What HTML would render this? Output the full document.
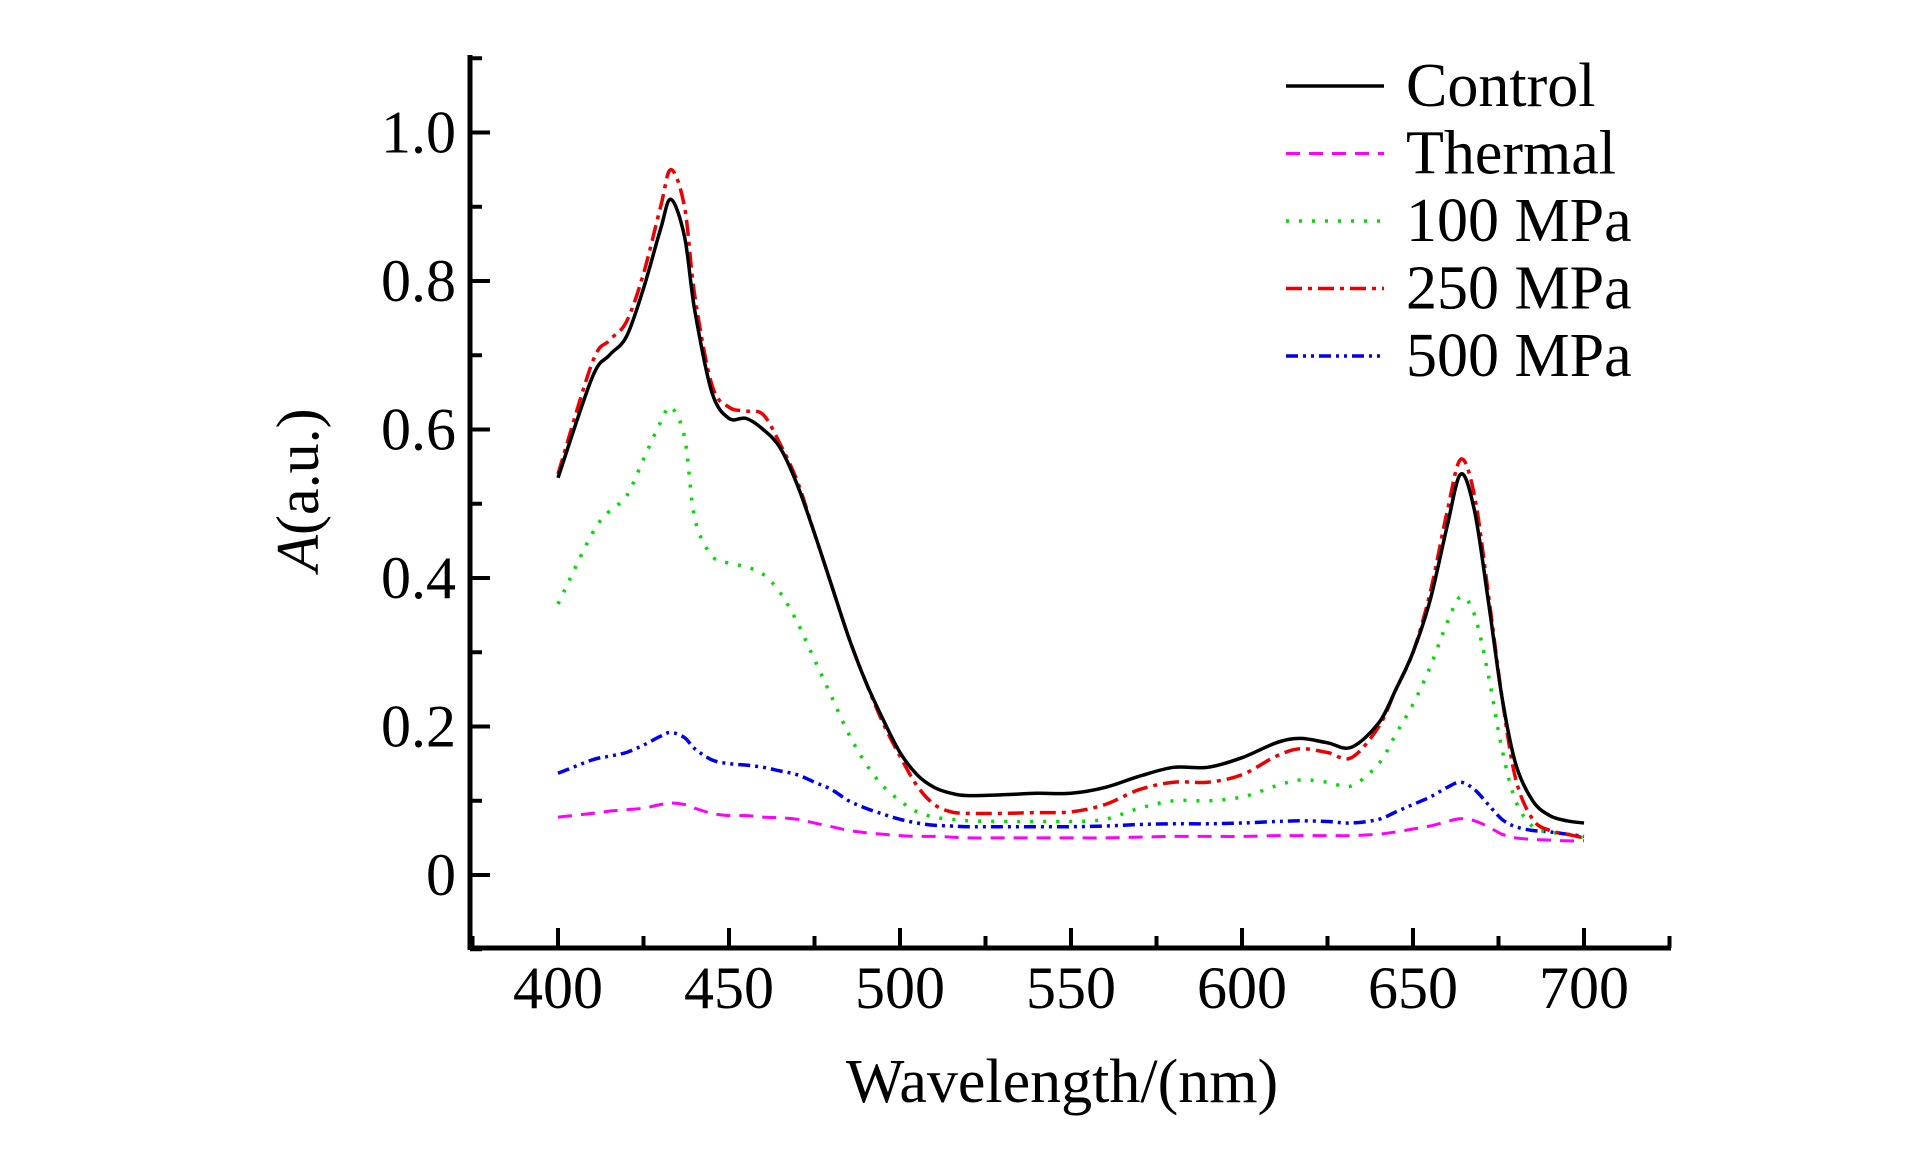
<!DOCTYPE html>
<html><head><meta charset="utf-8"><style>
html,body{margin:0;padding:0;background:#fff;}
svg{display:block;}
text{font-family:"Liberation Serif",serif;fill:#000;}
</style></head><body>
<svg id="chart" width="1923" height="1169" viewBox="0 0 1923 1169" xmlns="http://www.w3.org/2000/svg">
<g id="axes"></g>
<g id="series"></g>
<g id="legend"></g>
<text x="1062" y="1102" font-size="62" text-anchor="middle">Wavelength/(nm)</text>
<text transform="translate(318,490) rotate(-90)" font-size="60" text-anchor="middle"><tspan font-style="italic">A</tspan>(a.u.)</text>
</svg>
<script>
const wavelengths=[400,410,415,420,425,430,433,437,440,445,450,455,460,465,470,475,480,485,490,495,500,505,510,515,520,530,540,550,560,570,580,590,600,610,617,625,632,640,645,650,655,660,664,668,672,676,680,685,690,695,700];
const controlVals=[.535,.67,.70,.725,.79,.87,.91,.86,.76,.65,.615,.615,.60,.575,.525,.46,.39,.32,.26,.21,.165,.135,.118,.11,.107,.108,.11,.11,.118,.133,.145,.145,.158,.178,.184,.178,.172,.205,.25,.30,.37,.47,.54,.49,.37,.24,.15,.10,.08,.073,.07];
const thermalVals=[.078,.083,.086,.088,.09,.095,.097,.095,.09,.083,.08,.08,.078,.077,.075,.07,.065,.06,.057,.055,.053,.052,.052,.051,.05,.05,.05,.05,.05,.051,.052,.052,.052,.053,.053,.053,.053,.055,.058,.062,.066,.072,.076,.073,.065,.055,.05,.048,.047,.046,.046];
const mpa100Vals=[.365,.46,.49,.51,.56,.61,.63,.59,.48,.43,.42,.415,.405,.38,.34,.29,.24,.19,.15,.12,.1,.085,.078,.075,.073,.072,.072,.072,.075,.09,.1,.1,.105,.12,.128,.125,.12,.15,.19,.23,.28,.34,.375,.35,.27,.17,.1,.065,.058,.055,.05];
const mpa250Vals=[.54,.69,.72,.745,.81,.90,.95,.90,.78,.66,.63,.625,.62,.58,.53,.46,.39,.32,.26,.205,.16,.12,.095,.085,.083,.083,.084,.085,.095,.115,.125,.125,.135,.16,.17,.165,.158,.2,.25,.30,.38,.49,.56,.51,.38,.24,.13,.075,.06,.055,.05];
const mpa500Vals=[.137,.155,.16,.165,.175,.187,.192,.185,.17,.155,.15,.148,.145,.14,.135,.125,.115,.1,.09,.082,.075,.07,.067,.066,.065,.065,.065,.065,.066,.068,.069,.069,.07,.072,.073,.072,.07,.075,.085,.095,.105,.118,.125,.115,.095,.075,.065,.06,.058,.055,.052];
const seriesNames=["Control","Thermal","100 MPa","250 MPa","500 MPa"];
const xTickLabels=["400","450","500","550","600","650","700"];
const yTickLabels=["0","0.2","0.4","0.6","0.8","1.0"];

const NS="http://www.w3.org/2000/svg";
const X0=470,X1=1671,Y0=948,Y1=55;
function xs(w){return 558+(w-400)*(1584-558)/300;}
function ys(v){return 875-v*742.5;}
function mk(tag,attrs,parent){const e=document.createElementNS(NS,tag);for(const k in attrs)e.setAttribute(k,attrs[k]);parent.appendChild(e);return e;}
const axes=document.getElementById('axes');
let e=mk('line',{x1:X0,y1:Y0,x2:X1,y2:Y0,stroke:'#000','stroke-width':5},axes);


e=mk('line',{x1:X0,y1:Y0+2,x2:X0,y2:Y1,stroke:'#000','stroke-width':5},axes);


for(let w=375;w<=725;w+=25){
  const major=(w%50===0)&&w>=400&&w<=700;
  e=mk('line',{x1:xs(w),y1:Y0,x2:xs(w),y2:Y0-(major?20:12),stroke:'#000','stroke-width':4},axes);
  
  
}
xTickLabels.forEach(l=>{
  e=mk('text',{x:xs(+l),y:1008,'font-size':60,'text-anchor':'middle'},axes);e.textContent=l;
  
  
});
for(let i=-1;i<=11;i++){
  const v=i/10;const major=i%2===0&&i>=0&&i<=10;
  e=mk('line',{x1:X0,y1:ys(v),x2:X0+(major?20:12),y2:ys(v),stroke:'#000','stroke-width':4},axes);
  
  
}
yTickLabels.forEach(l=>{
  e=mk('text',{x:456,y:ys(+l)+20,'font-size':60,'text-anchor':'end'},axes);e.textContent=l;
  
  
});
const styles=[
 {c:'#000',d:'none',w:3.5,v:controlVals,n:'control-line'},
 {c:'#ff00ff',d:'14 9',w:3,v:thermalVals,n:'thermal-line'},
 {c:'#00dd00',d:'3 10',w:3.5,v:mpa100Vals,n:'mpa100-line'},
 {c:'#ee0000',d:'16 6 4 6',w:3.5,v:mpa250Vals,n:'mpa250-line'},
 {c:'#0000ee',d:'12 5 3 5 3 5',w:3.5,v:mpa500Vals,n:'mpa500-line'}];
function smoothPath(p){
  let d='M'+p[0][0].toFixed(1)+','+p[0][1].toFixed(1);
  for(let i=0;i<p.length-1;i++){
    const p0=p[Math.max(0,i-1)],p1=p[i],p2=p[i+1],p3=p[Math.min(p.length-1,i+2)];
    const c1x=p1[0]+(p2[0]-p0[0])/6,c1y=p1[1]+(p2[1]-p0[1])/6;
    const c2x=p2[0]-(p3[0]-p1[0])/6,c2y=p2[1]-(p3[1]-p1[1])/6;
    d+=' C'+c1x.toFixed(1)+','+c1y.toFixed(1)+' '+c2x.toFixed(1)+','+c2y.toFixed(1)+' '+p2[0].toFixed(1)+','+p2[1].toFixed(1);
  }
  return d;
}
const sg=document.getElementById('series');
const drawOrder=[1,4,2,3,0];
drawOrder.forEach(i=>{
  const s=styles[i];
  const pts=wavelengths.map((w,j)=>[xs(w),ys(s.v[j])]);
  e=mk('path',{d:smoothPath(pts),fill:'none',stroke:s.c,'stroke-width':s.w,'stroke-dasharray':s.d,'stroke-linejoin':'round'},sg);
  
  
});
const lg=document.getElementById('legend');
seriesNames.forEach((nm,i)=>{
  const y=86+i*67.5;const s=styles[i];
  e=mk('line',{x1:1286,y1:y,x2:1384,y2:y,stroke:s.c,'stroke-width':s.w,'stroke-dasharray':s.d},lg);
  
  
  e=mk('text',{x:1406,y:y+20,'font-size':62},lg);e.textContent=nm;
  
  
});
</script>
</body></html>
